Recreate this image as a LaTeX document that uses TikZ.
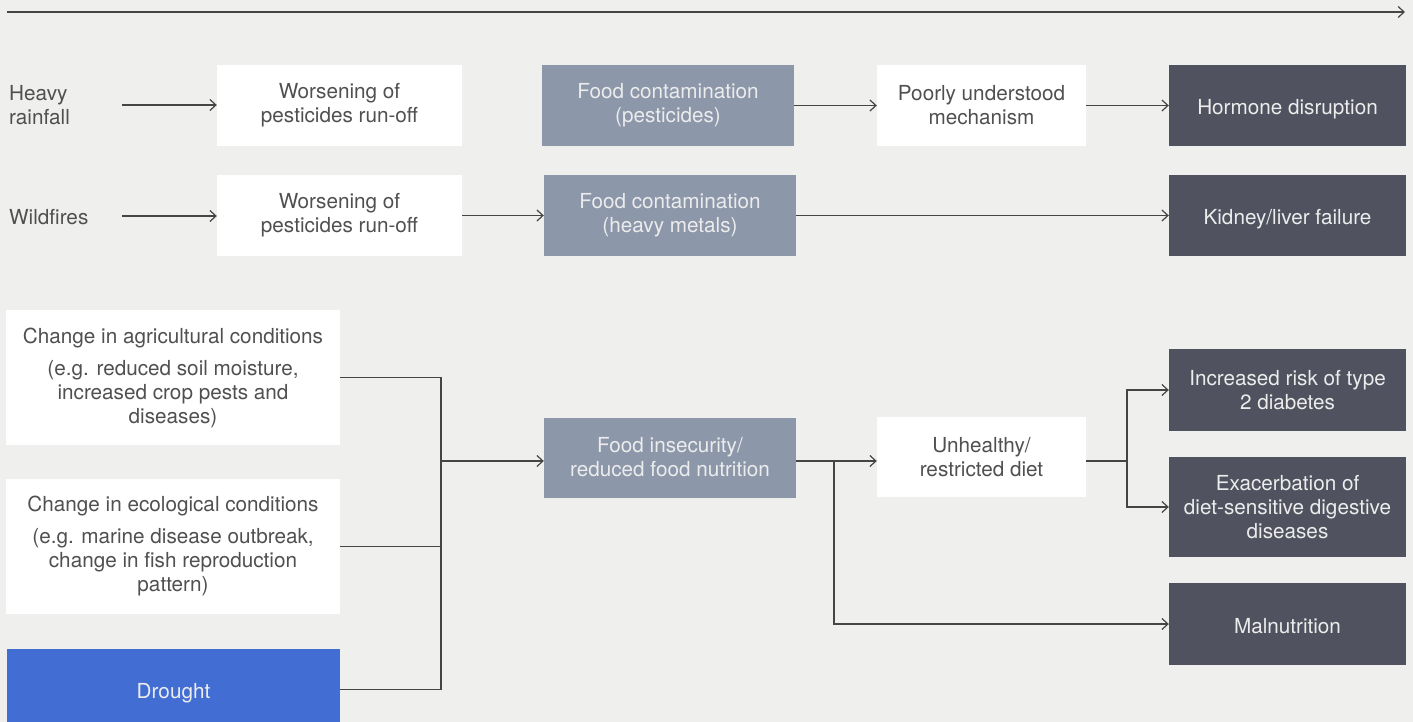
\documentclass[tikz,border=0pt]{standalone}
\usepackage{fontspec}
\setmainfont{TeX Gyre Heros}
\usetikzlibrary{arrows.meta}
\definecolor{bg}{HTML}{EFEFED}
\definecolor{slate}{HTML}{8C97AA}
\definecolor{darkbox}{HTML}{50535F}
\definecolor{droughtblue}{HTML}{426ED4}
\definecolor{ink}{HTML}{505050}
\definecolor{paleink}{HTML}{ECECEC}
\definecolor{wirecol}{HTML}{454545}
\begin{document}
\begin{tikzpicture}[x=1pt,y=-1pt,
  font=\fontsize{20.7}{24}\selectfont,
  base/.style={rectangle, inner sep=0pt, align=center},
  oneline/.style={text height=18pt, text depth=0pt},
  lightbox/.style={base, fill=white, text=ink},
  slatebox/.style={base, fill=slate, text=paleink},
  darkbox/.style={base, fill=darkbox, text=paleink},
  bluebox/.style={base, fill=droughtblue, text=paleink},
  sidetext/.style={inner sep=0pt, align=left, text=ink, anchor=west},
  wire/.style={draw=wirecol, line width=1.3pt},
  conn/.style={wire, -{Straight Barb[length=6pt, width=11pt, line width=1.2pt]}}
]
\fill[bg] (0,0) rectangle (1413,722);
\useasboundingbox (0,0) rectangle (1413,722);

% time axis
\coordinate (t0) at (7,12);
\coordinate (t1) at (1405,12);
\draw[conn] (t0) -- (t1);

% pesticide / heavy-metal pathways
\node[sidetext] (hr) at (9,105) {Heavy\\rainfall};
\node[sidetext, oneline] (wf) at (9,216) {Wildfires};

\node[lightbox, minimum width=245, minimum height=81] (w1) at (339.5,105.5) {Worsening of\\pesticides run-off};
\node[slatebox, minimum width=252, minimum height=81] (fc1) at (668,105.5) {Food contamination\\(pesticides)};
\node[lightbox, minimum width=209, minimum height=81] (pu) at (981.5,105.5) {Poorly understood\\mechanism};
\node[darkbox, oneline, minimum width=237, minimum height=81] (hd) at (1287.5,105.5) {Hormone disruption};

\node[lightbox, minimum width=245, minimum height=81] (w2) at (339.5,215.5) {Worsening of\\pesticides run-off};
\node[slatebox, minimum width=252, minimum height=81] (fc2) at (670,215.5) {Food contamination\\(heavy metals)};
\node[darkbox, oneline, minimum width=237, minimum height=81] (kl) at (1287.5,215.5) {Kidney/liver failure};

\coordinate (hrout) at (122,105);
\coordinate (wfout) at (122,216);
\draw[conn] (hrout) -- (w1.west |- hrout);
\draw[conn] (fc1.east) -- (pu.west);
\draw[conn] (pu.east) -- (hd.west);
\draw[conn] (wfout) -- (w2.west |- wfout);
\draw[conn] (w2.east) -- (fc2.west);
\draw[conn] (fc2.east) -- (kl.west);

% food insecurity pathway
\node[lightbox, minimum width=334, minimum height=135] (agr) at (173,377.5)
  {Change in agricultural conditions\\[8pt](e.g. reduced soil moisture,\\increased crop pests and\\diseases)};
\node[lightbox, minimum width=334, minimum height=135] (eco) at (173,546.5)
  {Change in ecological conditions\\[8pt](e.g. marine disease outbreak,\\change in fish reproduction\\pattern)};
\node[bluebox, oneline, minimum width=333, minimum height=81] (dr) at (173.5,689.5) {Drought};

\node[slatebox, minimum width=252, minimum height=80] (fi) at (670,457.5) {Food insecurity/\\reduced food nutrition};
\node[lightbox, minimum width=209, minimum height=80] (ud) at (981.5,457) {Unhealthy/\\restricted diet};

\node[darkbox, minimum width=237, minimum height=82] (ir) at (1287.5,390) {Increased risk of type\\2 diabetes};
\node[darkbox, minimum width=237, minimum height=100] (ex) at (1287.5,507) {Exacerbation of\\diet-sensitive digestive\\diseases};
\node[darkbox, oneline, minimum width=237, minimum height=82] (mn) at (1287.5,624) {Malnutrition};

\coordinate (j1) at (441,461);
\coordinate (j2) at (834,461);
\coordinate (j3) at (1127,461);

\draw[wire] (agr.east) -| (j1);
\draw[wire] (eco.east) -| (j1);
\draw[wire] (dr.east) -| (j1);
\draw[conn] (j1) -- (fi.west |- j1);
\draw[conn] (fi.east |- j2) -- (ud.west |- j2);
\draw[conn] (j2) |- (mn.west);
\draw[wire] (ud.east |- j3) -- (j3);
\draw[conn] (j3) |- (ir.west);
\draw[conn] (j3) |- (ex.west);
\end{tikzpicture}
\end{document}
